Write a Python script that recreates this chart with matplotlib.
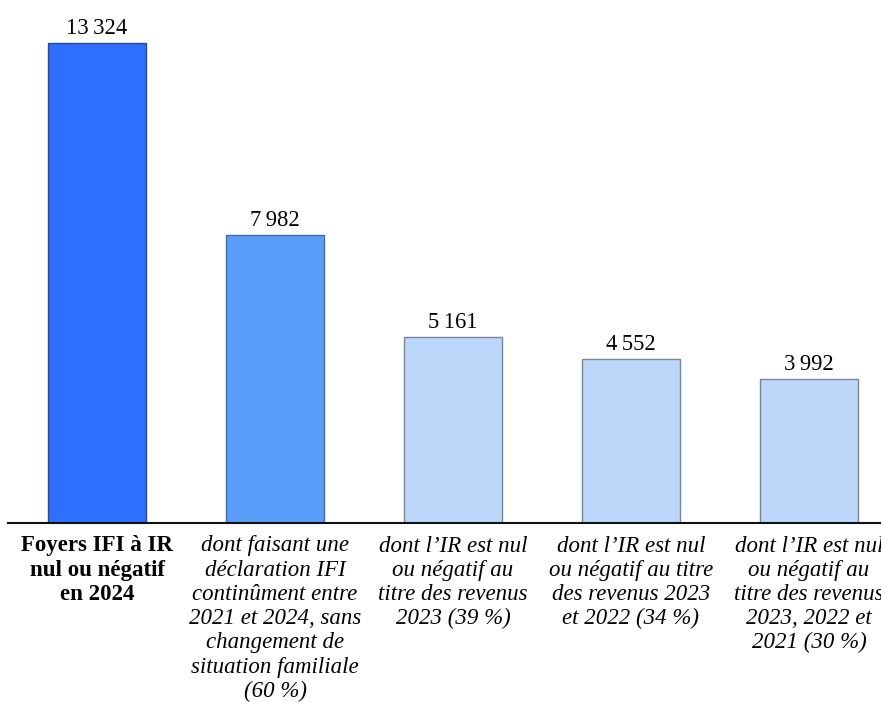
"""Bar chart: foyers IFI à IR nul ou négatif en 2024."""
import matplotlib
matplotlib.use('Agg')
import matplotlib.pyplot as plt

plt.rcParams['font.family'] = ['Liberation Serif', 'DejaVu Serif']

categories = [
    'Foyers IFI à IR\nnul ou négatif\nen 2024',
    'dont faisant une\ndéclaration IFI\ncontinûment entre\n2021 et 2024, sans\n'
    'changement de\nsituation familiale\n(60 %)',
    'dont l’IR est nul\nou négatif au\ntitre des revenus\n2023 (39 %)',
    'dont l’IR est nul\nou négatif au titre\ndes revenus 2023\net 2022 (34 %)',
    'dont l’IR est nul\nou négatif au\ntitre des revenus\n2023, 2022 et\n2021 (30 %)',
]
values = [13324, 7982, 5161, 4552, 3992]
colors = ['#2D6FFE', '#5A9DF8', '#BDD7FB', '#BDD7FB', '#BDD7FB']
edges = ['#2A4A8A', '#3F6CA8', '#7A8696', '#7A8696', '#7A8696']

W, H = 881, 702
fig = plt.figure(figsize=(W / 100, H / 100), dpi=100)
ax = fig.add_axes([8 / W, 179 / H, 890 / W, 523 / H])

x = range(len(values))
ax.bar(x, values, width=0.55, color=colors, edgecolor=edges, linewidth=1.0)

for xi, v in zip(x, values):
    label = f'{v:,}'.replace(',', '\u202f')
    ax.annotate(label, xy=(xi, v), xytext=(0, 3), textcoords='offset points',
                ha='center', va='bottom', fontsize=16.3)

ax.set_xlim(-0.5, 4.5)
ax.set_ylim(0, 13324 * 523 / 480)
ax.set_xticks(list(x))
ax.set_xticklabels(categories, fontsize=16.5, linespacing=1.2)
for i, t in enumerate(ax.get_xticklabels()):
    if i == 0:
        t.set_fontweight('bold')
    else:
        t.set_fontstyle('italic')
ax.tick_params(axis='x', length=0, pad=9)
ax.set_yticks([])
for side in ['top', 'right', 'left']:
    ax.spines[side].set_visible(False)
ax.spines['bottom'].set_linewidth(1.5)
ax.spines['bottom'].set_color('#111111')

fig.savefig('out.png', dpi=100)
